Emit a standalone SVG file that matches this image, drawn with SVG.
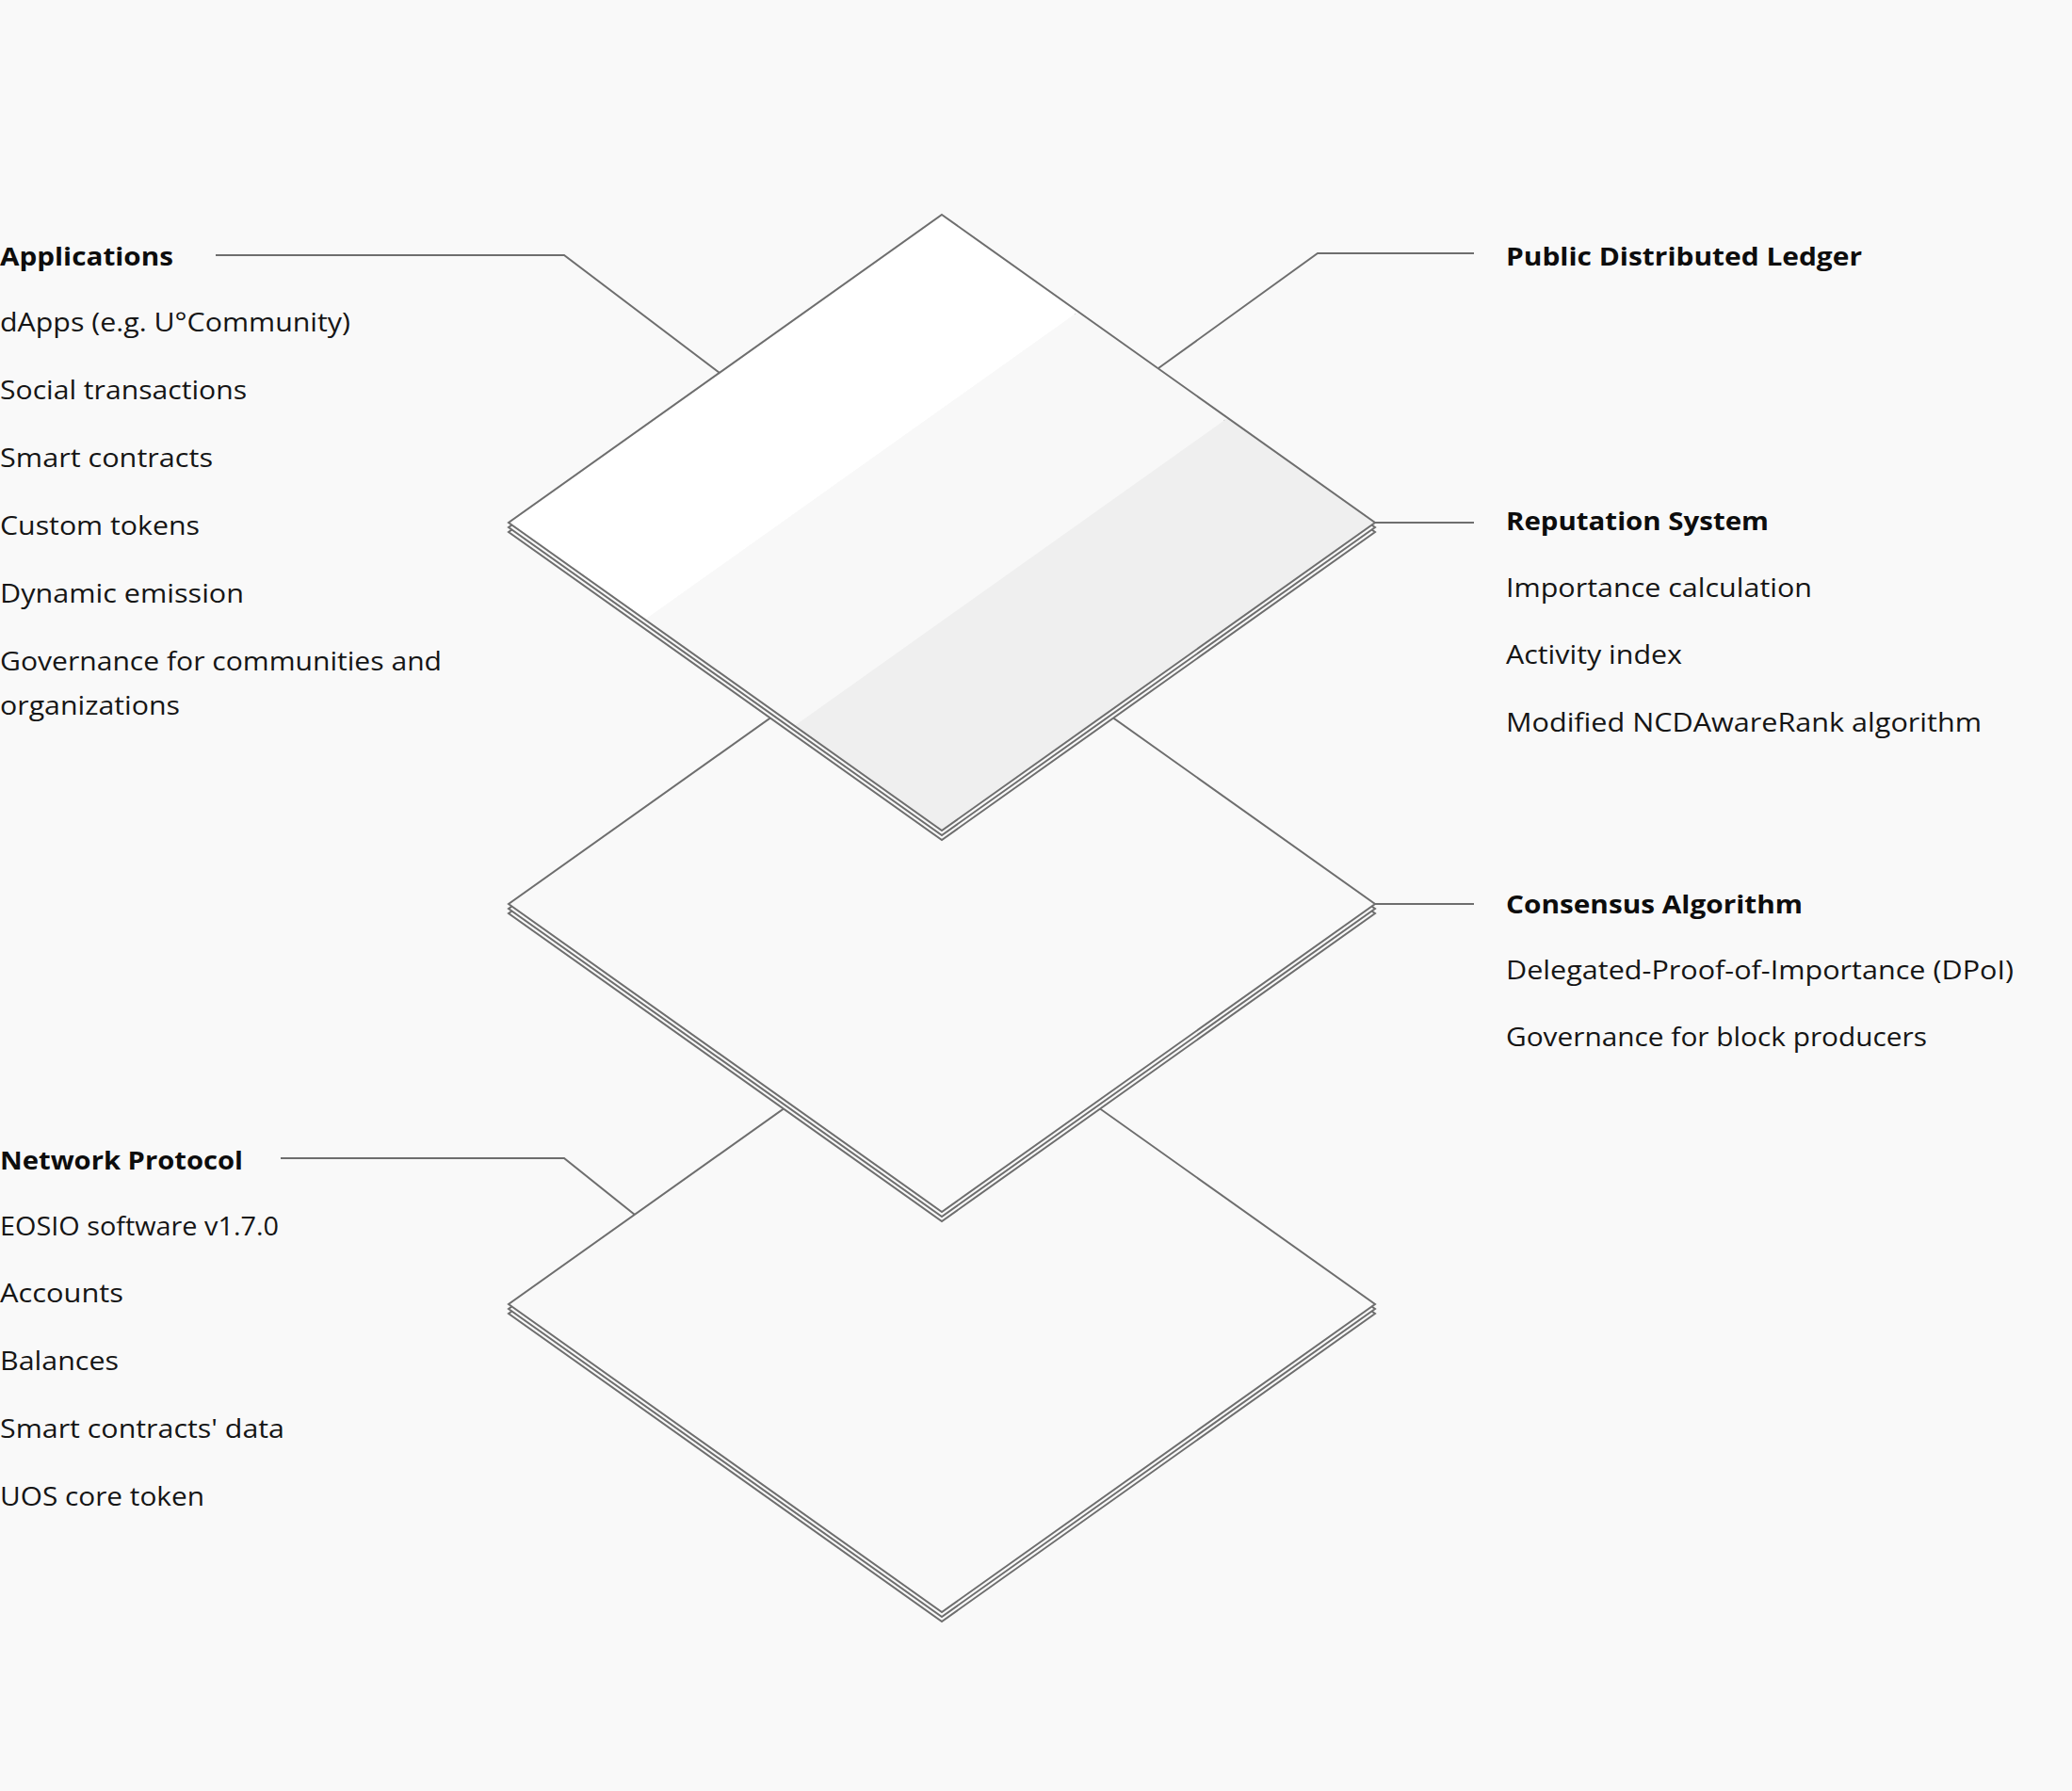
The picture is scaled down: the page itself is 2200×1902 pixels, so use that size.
<svg xmlns="http://www.w3.org/2000/svg" width="2200" height="1902" viewBox="0 0 2200 1902">
<style>
.bg{fill:#f9f9f9}
.edge{fill:#f9f9f9;stroke:#6e6e6e;stroke-width:2;stroke-linejoin:miter}
.out{fill:none;stroke:#6e6e6e;stroke-width:2}
.lead{fill:none;stroke:#6e6e6e;stroke-width:2}
.h{font-family:"Open Sans","Noto Sans",sans-serif;font-size:27px;font-weight:700;fill:#0d0d0d}
.t{font-family:"Open Sans","Noto Sans",sans-serif;font-size:27px;font-weight:400;fill:#151515}
</style>
<defs>
<path id="dia" d="M0,-327 L460,0 L0,327 L-460,0 Z"/>
</defs>
<rect class="bg" x="0" y="0" width="2200" height="1902"/>

<g id="connectors">
<path class="lead" d="M229,271 H599 L764,396"/>
<path class="lead" d="M1565,269 H1399 L1230,391"/>
<path class="lead" d="M1460,555 H1565"/>
<path class="lead" d="M1460,960 H1565"/>
<path class="lead" d="M298,1230 H599 L674,1290"/>
</g>

<g id="layer-network">
<use href="#dia" class="edge" transform="translate(1000,1395)"/>
<use href="#dia" class="edge" transform="translate(1000,1390)"/>
<use href="#dia" class="edge" transform="translate(1000,1385)"/>
</g>

<g id="layer-consensus">
<use href="#dia" class="edge" transform="translate(1000,970)"/>
<use href="#dia" class="edge" transform="translate(1000,965)"/>
<use href="#dia" class="edge" transform="translate(1000,960)"/>
</g>

<g id="layer-ledger">
<use href="#dia" class="edge" transform="translate(1000,565)"/>
<use href="#dia" class="edge" transform="translate(1000,560)"/>
<polygon points="540,555 1000,228 1144.9,331 684.9,658" fill="#ffffff"/>
<polygon points="684.9,658 1144.9,331 1303.6,443.8 843.6,770.8" fill="#f8f8f8"/>
<polygon points="843.6,770.8 1303.6,443.8 1460,555 1000,882" fill="#efefef"/>
<use href="#dia" class="out" transform="translate(1000,555)"/>
</g>

<g id="applications">
<text class="h" x="0" y="282" textLength="184" lengthAdjust="spacingAndGlyphs">Applications</text>
<text class="t" x="0" y="352" textLength="372" lengthAdjust="spacingAndGlyphs">dApps (e.g. U°Community)</text>
<text class="t" x="0" y="424" textLength="262" lengthAdjust="spacingAndGlyphs">Social transactions</text>
<text class="t" x="0" y="496" textLength="226" lengthAdjust="spacingAndGlyphs">Smart contracts</text>
<text class="t" x="0" y="568" textLength="212" lengthAdjust="spacingAndGlyphs">Custom tokens</text>
<text class="t" x="0" y="640" textLength="259" lengthAdjust="spacingAndGlyphs">Dynamic emission</text>
<text class="t" x="0" y="712" textLength="469" lengthAdjust="spacingAndGlyphs">Governance for communities and</text>
<text class="t" x="0" y="759" textLength="191" lengthAdjust="spacingAndGlyphs">organizations</text>
</g>

<g id="public-ledger">
<text class="h" x="1599" y="282" textLength="378" lengthAdjust="spacingAndGlyphs">Public Distributed Ledger</text>
</g>

<g id="reputation">
<text class="h" x="1599" y="563" textLength="279" lengthAdjust="spacingAndGlyphs">Reputation System</text>
<text class="t" x="1599" y="634" textLength="325" lengthAdjust="spacingAndGlyphs">Importance calculation</text>
<text class="t" x="1599" y="705" textLength="187" lengthAdjust="spacingAndGlyphs">Activity index</text>
<text class="t" x="1599" y="777" textLength="505" lengthAdjust="spacingAndGlyphs">Modified NCDAwareRank algorithm</text>
</g>

<g id="consensus">
<text class="h" x="1599" y="970" textLength="315" lengthAdjust="spacingAndGlyphs">Consensus Algorithm</text>
<text class="t" x="1599" y="1040" textLength="539" lengthAdjust="spacingAndGlyphs">Delegated-Proof-of-Importance (DPoI)</text>
<text class="t" x="1599" y="1111" textLength="447" lengthAdjust="spacingAndGlyphs">Governance for block producers</text>
</g>

<g id="network">
<text class="h" x="0" y="1242" textLength="258" lengthAdjust="spacingAndGlyphs">Network Protocol</text>
<text class="t" x="0" y="1312" textLength="296" lengthAdjust="spacingAndGlyphs">EOSIO software v1.7.0</text>
<text class="t" x="0" y="1383" textLength="131" lengthAdjust="spacingAndGlyphs">Accounts</text>
<text class="t" x="0" y="1455" textLength="126" lengthAdjust="spacingAndGlyphs">Balances</text>
<text class="t" x="0" y="1527" textLength="302" lengthAdjust="spacingAndGlyphs">Smart contracts' data</text>
<text class="t" x="0" y="1599" textLength="217" lengthAdjust="spacingAndGlyphs">UOS core token</text>
</g>
</svg>
